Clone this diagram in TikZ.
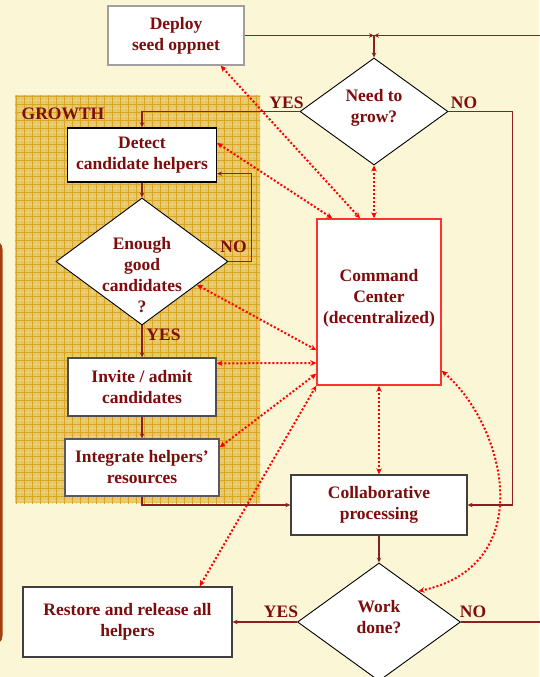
\documentclass[tikz,border=0pt]{standalone}
\usepackage{fontspec}
\setmainfont{Liberation Serif}
\usetikzlibrary{shapes.geometric,arrows.meta,calc}

\definecolor{bg}{RGB}{250,246,214}
\definecolor{txt}{RGB}{125,12,12}
\definecolor{conn}{RGB}{140,32,32}
\definecolor{gold}{RGB}{230,198,102}
\definecolor{goldfine}{RGB}{236,208,120}
\definecolor{goldline}{RGB}{216,166,34}
\definecolor{ccred}{RGB}{255,50,50}
\definecolor{dotred}{RGB}{255,0,0}
\definecolor{bracket}{RGB}{165,62,15}

\begin{document}
\begin{tikzpicture}[x=1pt,y=-1pt,
  lbl/.style={font=\fontsize{17.5}{21}\selectfont\bfseries, text=txt, align=center, inner sep=0pt},
  box/.style={draw=#1, fill=white, line width=1.3pt, inner sep=0pt,
    font=\fontsize{17.5}{21}\selectfont\bfseries, text=txt, align=center},
  dia/.style={diamond, draw=black, fill=white, line width=0.9pt, inner sep=0pt},
  flow/.style={draw=conn, line width=1.6pt, -{Stealth[length=5pt,width=4.5pt]}},
  plain/.style={draw=conn, line width=1.6pt},
  dots/.style={draw=dotred, line width=2pt, dash pattern=on 2pt off 2pt,
    {Stealth[length=6pt,width=5.5pt]}-{Stealth[length=6pt,width=5.5pt]}}
]
% background
\fill[bg] (0,0) rectangle (539,677);
\useasboundingbox (0,0) rectangle (539,677);

% left bracket
\draw[draw=bracket, line width=2.6pt, rounded corners=10pt] (-20,240) -- (1.3,240) -- (1.3,645) -- (-20,645);

% GROWTH region
\begin{scope}
  \clip (15,95) rectangle (260,503);
  \fill[gold] (15,95) rectangle (260,503);
  \draw[goldfine, line width=0.5pt, step=4pt] (10,90) grid (265,508);
  \draw[goldline, line width=0.9pt, step=8pt] (10,90) grid (265,508);
\end{scope}
\node[lbl] (growth) at (63,113.5) {GROWTH};

% boxes
\node[box=gray!75, minimum width=136pt, minimum height=59pt] (deploy) at (176,35.5) {Deploy\\seed oppnet};
\node[box=black, minimum width=149pt, minimum height=54pt] (detect) at (142,155) {Detect\\candidate helpers};
\node[dia, minimum width=172pt, minimum height=127pt] (enough) at (142,261.5) {};
\node[lbl] (enoughtxt) at (142,275) {Enough\\good\\candidates\\?};
\node[box=black!70, minimum width=148pt, minimum height=58pt] (invite) at (142,387) {Invite / admit\\candidates};
\node[box=black!65, minimum width=154pt, minimum height=57pt] (integrate) at (142,467.5) {Integrate helpers’\\resources};
\node[box=ccred, minimum width=124pt, minimum height=166pt, line width=1.5pt] (cc) at (379,302) {};
\node[lbl] (cctxt) at (379,298) {Command\\Center\\(decentralized)};
\node[box=black!75, minimum width=176pt, minimum height=60pt] (collab) at (379,505) {Collaborative\\processing};
\node[dia, minimum width=148pt, minimum height=107pt] (need) at (374,111.5) {};
\node[lbl] (needtxt) at (374,108) {Need to\\grow?};
\node[dia, minimum width=163pt, minimum height=118pt] (work) at (379,622) {};
\node[lbl] (worktxt) at (379,617) {Work\\done?};
\node[box=black!75, minimum width=209pt, minimum height=70pt] (restore) at (127.5,622) {Restore and release all\\helpers};

% free ends
\coordinate (jn) at (374,35.5);
\coordinate (topright) at (541,35.5);
\coordinate (botright) at (541,622);

% flow connectors
\draw[flow] (deploy.east) -- (jn);
\draw[flow] (topright) -- (jn);
\draw[flow] (jn) -- (need.north);
\draw[flow] (need.west) -| (detect.north);
\draw[flow] (need.east) -- ++(64,0) |- (collab.east);
\draw[flow] (detect.south) -- (enough.north);
\draw[flow] (enough.east) -- ++(23,0) |- ($(detect.south east)+(0,-9)$);
\draw[flow] (enough.south) -- (invite.north);
\draw[flow] (invite.south) -- (integrate.north);
\draw[flow] (integrate.south) |- (collab.west);
\draw[flow] (collab.south) -- (work.north);
\draw[flow] (work.west) -- (restore.east);
\draw[plain] (work.east) -- (botright);

% labels
\node[lbl] (yes1) at (286.5,102.5) {YES};
\node[lbl] (no1) at (464,102.5) {NO};
\node[lbl] (no2) at (233.5,247) {NO};
\node[lbl] (yes2) at (163.5,334.5) {YES};
\node[lbl] (yes3) at (281,612) {YES};
\node[lbl] (no3) at (473,612) {NO};

% dotted links to command center
\draw[dots] ($(deploy.south east)+(-24,0)$) -- ($(cc.north)+(-19,0)$);
\draw[dots] ($(detect.east)+(0,-12)$) -- ($(cc.north west)+(16,0)$);
\draw[dots] (need.south) -- (need.south |- cc.north);
\draw[dots] (enough.-23) -- ($(cc.west)+(0,48)$);
\draw[dots] ($(invite.north east)+(0,6)$) -- ($(cc.west)+(0,61)$);
\draw[dots] ($(integrate.north east)+(0,9)$) -- ($(cc.south west)+(0,-12)$);
\draw[dots] ($(restore.north east)+(-33,0)$) -- (cc.south west);
\draw[dots] (cc.south) -- (collab.north);
\draw[dots] ($(cc.south east)+(0,-15)$) .. controls (505,425) and (540,565) .. (work.38);
\end{tikzpicture}
\end{document}
